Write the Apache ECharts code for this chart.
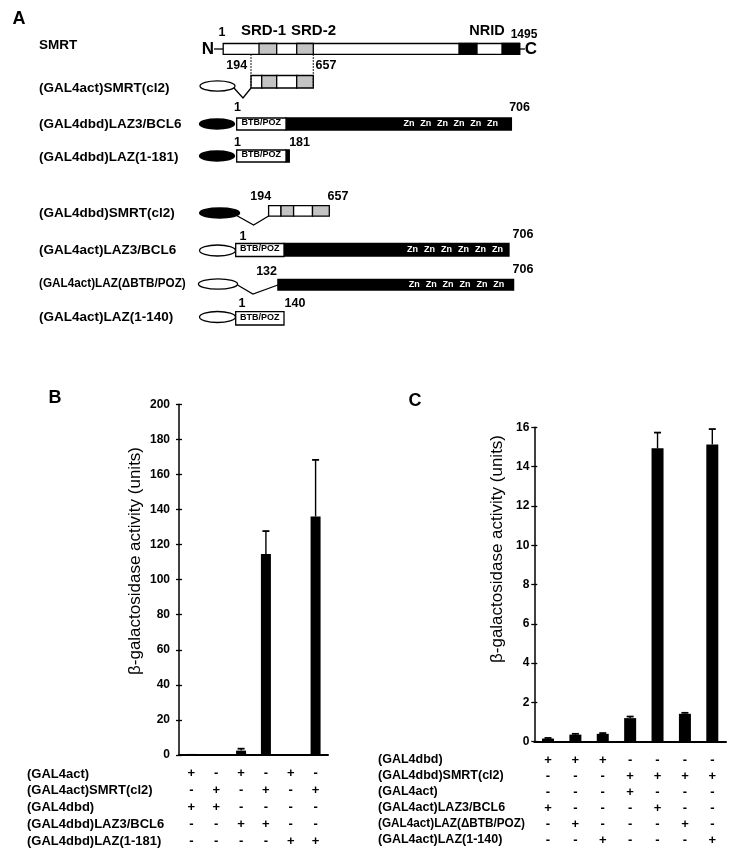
<!DOCTYPE html>
<html><head><meta charset="utf-8">
<script src="https://cdn.jsdelivr.net/npm/echarts@6/dist/echarts.min.js"></script>
<style>html,body{margin:0;padding:0;background:#fff}#c{width:736px;height:858px}</style>
</head><body><div id="c"></div>
<script>
const FONT = '"Liberation Sans", Arial, Helvetica, sans-serif';

// ---------- Panel A (schematic) text data ----------
const smrtLabel = 'SMRT';
const smrtDomains = ['SRD-1', 'SRD-2', 'NRID'];
const smrtEnds = ['1', '1495'];
const clFragment = ['194', '657'];
const lazEnds = ['1', '706'];
const laz181 = ['1', '181'];
const lazDelta = ['132', '706'];
const laz140 = ['1', '140'];
const constructLabels = [
  '(GAL4act)SMRT(cl2)', '(GAL4dbd)LAZ3/BCL6', '(GAL4dbd)LAZ(1-181)',
  '(GAL4dbd)SMRT(cl2)', '(GAL4act)LAZ3/BCL6', '(GAL4act)LAZ(\u0394BTB/POZ)', '(GAL4act)LAZ(1-140)'
];
const znFingers = ['Zn', 'Zn', 'Zn', 'Zn', 'Zn', 'Zn'];

// ---------- Panel B data ----------
const bCategories = ['1', '2', '3', '4', '5', '6'];
const bValues = [0.6, 0.5, 2.5, 114.6, 0.5, 136];
const bErrors = [0, 0, 1.1, 13.1, 0, 32.3];
const bRowLabels = ['(GAL4act)', '(GAL4act)SMRT(cl2)', '(GAL4dbd)', '(GAL4dbd)LAZ3/BCL6', '(GAL4dbd)LAZ(1-181)'];
const bSigns = [
  ['+', '-', '+', '-', '+', '-'],
  ['-', '+', '-', '+', '-', '+'],
  ['+', '+', '-', '-', '-', '-'],
  ['-', '-', '+', '+', '-', '-'],
  ['-', '-', '-', '-', '+', '+']
];

// ---------- Panel C data ----------
const cCategories = ['1', '2', '3', '4', '5', '6', '7'];
const cValues = [0.16, 0.36, 0.40, 1.2, 14.93, 1.42, 15.13];
const cErrors = [0.03, 0.04, 0.04, 0.08, 0.8, 0.05, 0.78];
const cRowLabels = ['(GAL4dbd)', '(GAL4dbd)SMRT(cl2)', '(GAL4act)', '(GAL4act)LAZ3/BCL6', '(GAL4act)LAZ(\u0394BTB/POZ)', '(GAL4act)LAZ(1-140)'];
const cSigns = [
  ['+', '+', '+', '-', '-', '-', '-'],
  ['-', '-', '-', '+', '+', '+', '+'],
  ['-', '-', '-', '+', '-', '-', '-'],
  ['+', '-', '-', '-', '+', '-', '-'],
  ['-', '+', '-', '-', '-', '+', '-'],
  ['-', '-', '+', '-', '-', '-', '+']
];
const yName = '\u03b2-galactosidase activity (units)';

// ---------- helpers for schematic ----------
const G = [];
function T(text, x, y, size, opt) {
  opt = opt || {};
  G.push({type: 'text', x: x, y: y, rotation: opt.rot || 0, scaleX: opt.sx || 1, z: 20, style: {
    text: text, fill: opt.fill || '#000', font: (opt.weight || 'bold') + ' ' + size + 'px ' + FONT,
    align: opt.align || 'center', verticalAlign: opt.va || 'middle' }});
}
function R(x, y, w, h, fill, lw) {
  G.push({type: 'rect', shape: {x: x, y: y, width: w, height: h}, z: 5,
    style: {fill: fill, stroke: '#000', lineWidth: lw == null ? 1.3 : lw}});
}
function L(pts, lw, dash) {
  G.push({type: 'polyline', shape: {points: pts}, z: 6,
    style: {stroke: '#000', lineWidth: lw || 1.3, lineDash: dash || null, fill: null}});
}
function E(cx, cy, rx, ry, fill) {
  G.push({type: 'ellipse', shape: {cx: cx, cy: cy, rx: rx, ry: ry}, z: 5,
    style: {fill: fill, stroke: '#000', lineWidth: 1.3}});
}
const GRAY = '#c4c4c4';
function btb(x, y, w, h) {
  R(x, y, w, h, '#fff');
  T('BTB/POZ', x + w / 2, y + h / 2 - 1, 9);
}
function zn(x0, step, y) {
  znFingers.forEach((z, k) => T(z, x0 + step * k, y, 9, {fill: '#fff'}));
}
function cl2(x, y, h, segs) {
  let cx = x;
  const fills = ['#fff', GRAY, '#fff', GRAY];
  segs.forEach((w, i) => { R(cx, y, w, h, fills[i]); cx += w; });
}

// Panel letters
T('A', 19, 19, 18);
T('B', 55, 398.5, 18);
T('C', 415, 401.5, 18);

// SMRT full length
T(smrtLabel, 39, 45, 13.5, {align: 'left'});
T('N', 208, 49.5, 17);
L([[214, 49], [223.2, 49]]);
R(223.2, 43.5, 296.4, 10.8, '#fff');
R(259, 43.5, 17.7, 10.8, GRAY);
R(296.7, 43.5, 16.6, 10.8, GRAY);
R(459, 43.5, 18, 10.8, '#000');
R(502, 43.5, 17.6, 10.8, '#000');
L([[519.6, 49], [525, 49]]);
T('C', 531, 49.5, 17);
T(smrtEnds[0], 222, 33, 12.5);
T(smrtDomains[0], 263.5, 31, 15);
T(smrtDomains[1], 313.5, 31, 15);
T(smrtDomains[2], 487, 31, 14.5);
T(smrtEnds[1], 524, 34.5, 12);
L([[251, 54.3], [251, 88]], 1.2, [1.5, 1.5]);
L([[313.3, 54.3], [313.3, 88]], 1.2, [1.5, 1.5]);
T(clFragment[0], 236.7, 66, 12.5);
T(clFragment[1], 326, 66, 12.5);

// (GAL4act)SMRT(cl2)
T(constructLabels[0], 39, 88, 13.5, {align: 'left'});
E(217.5, 86, 17.5, 5.2, '#fff');
L([[234, 88], [243, 98], [251, 88]]);
cl2(251, 75.5, 12.5, [10.7, 15, 20, 16.6]);

// (GAL4dbd)LAZ3/BCL6
T(lazEnds[0], 237.5, 108, 12.5);
T(lazEnds[1], 519.6, 108, 12.5);
T(constructLabels[1], 39, 124, 13.5, {align: 'left'});
E(217, 124, 17.5, 5, '#000');
R(286, 118, 225.4, 12, '#000');
btb(236.7, 118, 49.3, 12);
zn(409, 16.7, 124);

// (GAL4dbd)LAZ(1-181)
T(laz181[0], 237.5, 143, 12.5);
T(laz181[1], 299.6, 143, 12.5);
T(constructLabels[2], 39, 157, 13.5, {align: 'left'});
E(217, 156, 17.5, 5, '#000');
R(286, 150, 3.3, 12, '#000');
btb(236.7, 150, 49.3, 12);

// (GAL4dbd)SMRT(cl2)
T(clFragment[0], 260.7, 197, 12.5);
T(clFragment[1], 338, 197, 12.5);
T(constructLabels[3], 39, 213, 13.5, {align: 'left'});
E(219.6, 213, 20, 5, '#000');
L([[235.7, 215], [253.6, 225], [268.6, 216]]);
cl2(268.6, 205.7, 10.5, [12.4, 12.6, 18.9, 16.8]);

// (GAL4act)LAZ3/BCL6
T(lazEnds[0], 242.9, 237, 12.5);
T(lazEnds[1], 523, 235, 12.5);
T(constructLabels[4], 39, 250, 13.5, {align: 'left'});
E(217.5, 250.5, 18, 5.5, '#fff');
R(284, 243.5, 225, 12.5, '#000');
btb(235.7, 243.5, 48.3, 13);
zn(412.5, 17, 250);

// (GAL4act)LAZ(dBTB/POZ)
T(lazDelta[0], 266.6, 272, 12.5);
T(lazDelta[1], 523, 270, 12.5);
T(constructLabels[5], 39, 283, 13.5, {align: 'left', sx: 0.87});
E(218, 284, 19.6, 5.2, '#fff');
L([[237.5, 285], [252.9, 294], [277.9, 285]]);
R(277.9, 279.3, 235.7, 10.7, '#000');
zn(414.3, 16.9, 285);

// (GAL4act)LAZ(1-140)
T(laz140[0], 242, 304, 12.5);
T(laz140[1], 295, 304, 12.5);
T(constructLabels[6], 39, 317, 13.5, {align: 'left'});
E(217.5, 317, 18, 5.5, '#fff');
btb(235.7, 311.7, 48.3, 13.3);

// Table row labels & axis names
bRowLabels.forEach((s, i) => T(s, 27, 774 + 16.8 * i, 13, {align: 'left'}));
cRowLabels.forEach((s, i) => T(s, 378, 760 + 16 * i, 12.5, {align: 'left', sx: i === 4 ? 0.94 : 1}));
T(yName, 135.5, 561, 17, {rot: Math.PI / 2, weight: 'normal'});
T(yName, 497.5, 549, 17, {rot: Math.PI / 2, weight: 'normal'});

// ---------- chart ----------
function errSeries(xi, vals, errs, cap) {
  return {
    type: 'custom', xAxisIndex: xi, yAxisIndex: xi * 2, z: 10, silent: true,
    data: vals.map((v, i) => [i, v, v + errs[i]]),
    encode: {x: 0, y: [1, 2]},
    renderItem: (params, api) => {
      const lo = api.coord([api.value(0), api.value(1)]);
      const hi = api.coord([api.value(0), api.value(2)]);
      if (api.value(2) <= api.value(1)) return {type: 'group', children: []};
      return {type: 'group', children: [
        {type: 'line', shape: {x1: lo[0], y1: lo[1], x2: hi[0], y2: hi[1]}, style: {stroke: '#000', lineWidth: 1.4}},
        {type: 'line', shape: {x1: hi[0] - cap / 2, y1: hi[1], x2: hi[0] + cap / 2, y2: hi[1]}, style: {stroke: '#000', lineWidth: 1.8}}
      ]};
    }
  };
}
function xAx(gi, cats, signs, margin, lh) {
  return {
    gridIndex: gi, type: 'category', data: cats,
    axisLine: {lineStyle: {color: '#000', width: 2}}, axisTick: {show: false},
    splitLine: {show: false},
    axisLabel: {interval: 0, margin: margin, lineHeight: lh, fontSize: 13, fontWeight: 'bold',
      color: '#000', fontFamily: FONT,
      formatter: (v, i) => signs.map(r => r[i]).join('\n')}
  };
}
function yAx(gi, max, interval, margin) {
  return [{
    gridIndex: gi, type: 'value', min: 0, max: max, interval: interval, position: 'left',
    axisLine: {show: true, lineStyle: {color: '#000', width: 1.5}},
    axisTick: {show: true, length: 3, lineStyle: {color: '#000', width: 1.3}},
    splitLine: {show: false},
    axisLabel: {margin: margin, fontSize: 12, fontWeight: 'bold', color: '#000', fontFamily: FONT}
  }, {
    gridIndex: gi, type: 'value', min: 0, max: max, interval: interval, position: 'left', offset: 0,
    axisLine: {show: false}, axisTick: {show: true, inside: true, length: 3, lineStyle: {color: '#000', width: 1.3}},
    splitLine: {show: false}, axisLabel: {show: false}
  }];
}

const chart = echarts.init(document.getElementById('c'), null, {renderer: 'canvas'});
chart.setOption({
  backgroundColor: '#fff',
  animation: false,
  textStyle: {fontFamily: FONT},
  grid: [
    {left: 179, top: 404.3, width: 149, height: 350.7},
    {left: 534.3, top: 427.3, width: 191.7, height: 314.4}
  ],
  xAxis: [xAx(0, bCategories, bSigns, 10.5, 16.8), xAx(1, cCategories, cSigns, 10.3, 16)],
  yAxis: [].concat(yAx(0, 200, 20, 9), yAx(1, 16, 2, 5)),
  series: [
    {type: 'bar', xAxisIndex: 0, yAxisIndex: 0, data: bValues, barWidth: 10, itemStyle: {color: '#000'}, silent: true},
    errSeries(0, bValues, bErrors, 7),
    {type: 'bar', xAxisIndex: 1, yAxisIndex: 2, data: cValues, barWidth: 12, itemStyle: {color: '#000'}, silent: true},
    errSeries(1, cValues, cErrors, 7)
  ],
  graphic: G
});
</script></body></html>
